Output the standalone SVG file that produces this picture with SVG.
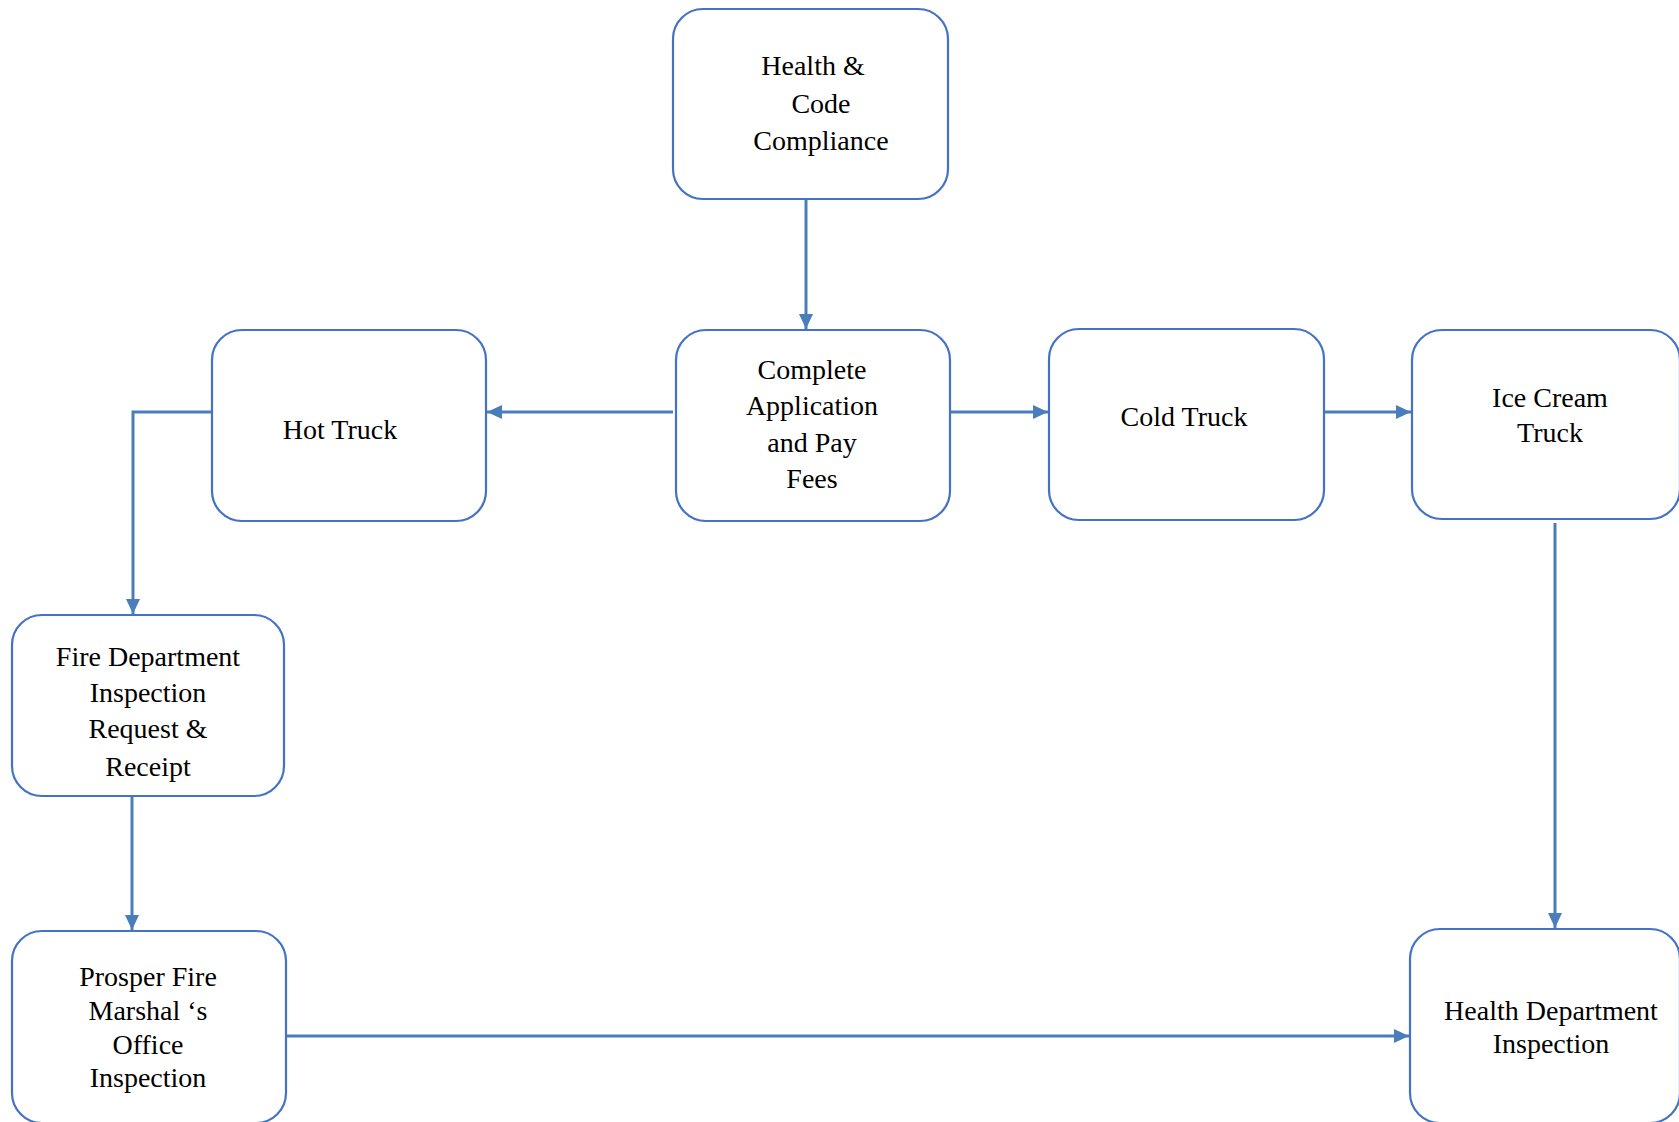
<svg xmlns="http://www.w3.org/2000/svg" width="1679" height="1122" viewBox="0 0 1679 1122">
<style>
.box{fill:#fff;stroke:#4472C4;stroke-width:2.2}
.t{font-family:"Liberation Serif","Times New Roman",serif;font-size:28px;fill:#000;text-anchor:middle}
.c{fill:none;stroke:#4A7EBB;stroke-width:3}
</style>
<defs>
<marker id="ah" markerWidth="15" markerHeight="14" refX="15" refY="7" orient="auto" markerUnits="userSpaceOnUse" viewBox="0 0 15 14">
<path d="M0,0 L15,7 L0,14 z" fill="#4A7EBB"/>
</marker>
</defs>
<rect width="1679" height="1122" fill="#fff"/>
<g id="connectors">
<line class="c" x1="806" y1="199" x2="806" y2="329" marker-end="url(#ah)"/>
<line class="c" x1="673" y1="412" x2="487" y2="412" marker-end="url(#ah)"/>
<line class="c" x1="951" y1="412" x2="1048" y2="412" marker-end="url(#ah)"/>
<line class="c" x1="1324" y1="412" x2="1411" y2="412" marker-end="url(#ah)"/>
<polyline class="c" points="212,412 133,412 133,614" marker-end="url(#ah)"/>
<line class="c" x1="132" y1="796" x2="132" y2="930" marker-end="url(#ah)"/>
<line class="c" x1="1555" y1="523" x2="1555" y2="928" marker-end="url(#ah)"/>
<line class="c" x1="286" y1="1036" x2="1409" y2="1036" marker-end="url(#ah)"/>
</g>
<g id="health-code">
<rect class="box" x="673" y="9" width="275" height="190" rx="30"/>
<text class="t" x="813" y="75">Health &amp;</text>
<text class="t" x="821" y="113">Code</text>
<text class="t" x="821" y="150">Compliance</text>
</g>
<g id="complete">
<rect class="box" x="676" y="330" width="274" height="191" rx="30"/>
<text class="t" x="812" y="379">Complete</text>
<text class="t" x="812" y="415">Application</text>
<text class="t" x="812" y="452">and Pay</text>
<text class="t" x="812" y="488">Fees</text>
</g>
<g id="hot-truck">
<rect class="box" x="212" y="330" width="274" height="191" rx="30"/>
<text class="t" x="340" y="439">Hot Truck</text>
</g>
<g id="cold-truck">
<rect class="box" x="1049" y="329" width="275" height="191" rx="30"/>
<text class="t" x="1184" y="426">Cold Truck</text>
</g>
<g id="ice-cream">
<rect class="box" x="1412" y="330" width="268" height="189" rx="30"/>
<text class="t" x="1550" y="407">Ice Cream</text>
<text class="t" x="1550" y="442">Truck</text>
</g>
<g id="fire-dept">
<rect class="box" x="12" y="615" width="272" height="181" rx="30"/>
<text class="t" x="148" y="666">Fire Department</text>
<text class="t" x="148" y="702">Inspection</text>
<text class="t" x="148" y="738">Request &amp;</text>
<text class="t" x="148" y="776">Receipt</text>
</g>
<g id="prosper">
<rect class="box" x="12" y="931" width="274" height="192" rx="30"/>
<text class="t" x="148" y="986">Prosper Fire</text>
<text class="t" x="148" y="1020">Marshal ‘s</text>
<text class="t" x="148" y="1054">Office</text>
<text class="t" x="148" y="1087">Inspection</text>
</g>
<g id="health-dept">
<rect class="box" x="1410" y="929" width="270" height="194" rx="30"/>
<text class="t" x="1551" y="1020">Health Department</text>
<text class="t" x="1551" y="1053">Inspection</text>
</g>
</svg>
